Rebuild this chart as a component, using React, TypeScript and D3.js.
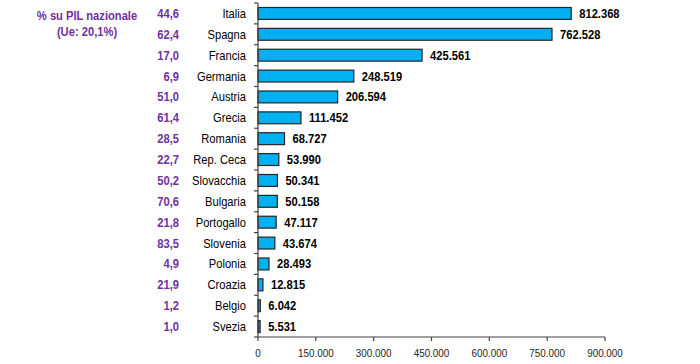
import React, { useEffect, useRef } from 'react'
import * as d3 from 'd3'

const countries = ['Italia', 'Spagna', 'Francia', 'Germania', 'Austria', 'Grecia', 'Romania', 'Rep. Ceca', 'Slovacchia', 'Bulgaria', 'Portogallo', 'Slovenia', 'Polonia', 'Croazia', 'Belgio', 'Svezia']
const amounts = [812368, 762528, 425561, 248519, 206594, 111452, 68727, 53990, 50341, 50158, 47117, 43674, 28493, 12815, 6042, 5531]
const pilShares = ['44,6', '62,4', '17,0', '6,9', '51,0', '61,4', '28,5', '22,7', '50,2', '70,6', '21,8', '83,5', '4,9', '21,9', '1,2', '1,0']
const xTicks = [0, 150000, 300000, 450000, 600000, 750000, 900000]

const W = 700
const H = 364
const SQUEEZE = 0.86 // the source uses a narrow-looking Arial

const App: React.FC = () => {
  const svgRef = useRef<SVGSVGElement>(null)

  useEffect(() => {
    if (!svgRef.current) return
    const svg = d3.select(svgRef.current)
    svg.selectAll('*').remove()

    const left = 258
    const right = 605
    const top = 3
    const bottom = 337
    const font = 'Liberation Sans, Arial, sans-serif'
    const it = d3.formatLocale({ decimal: ',', thousands: '.', grouping: [3], currency: ['', '€'] })
    const fmt = it.format(',d')

    const x = d3.scaleLinear().domain([0, 900000]).range([left, right])
    const y = d3.scaleBand().domain(countries).range([top, bottom]).paddingInner(0.43).paddingOuter(0.215)

    const rows = countries.map((c, i) => ({ c, v: amounts[i], p: pilShares[i] }))
    const mid = (c: string) => (y(c) ?? 0) + y.bandwidth() / 2

    // bars
    svg.append('g').selectAll('rect')
      .data(rows)
      .enter()
      .append('rect')
      .attr('x', x(0))
      .attr('y', d => y(d.c) ?? 0)
      .attr('width', d => x(d.v) - x(0))
      .attr('height', y.bandwidth())
      .attr('fill', '#00B0F0')
      .attr('stroke', '#262626')
      .attr('stroke-width', 1.2)

    // y axis line + ticks at category boundaries
    const ax = svg.append('g').attr('stroke', '#404040').attr('stroke-width', 1.2)
    ax.append('line').attr('x1', left).attr('x2', left).attr('y1', top).attr('y2', bottom)
    d3.range(countries.length + 1).forEach(i => {
      const yy = top + i * ((bottom - top) / countries.length)
      ax.append('line').attr('x1', left - 4).attr('x2', left).attr('y1', yy).attr('y2', yy)
    })

    // x axis
    ax.append('line').attr('x1', left).attr('x2', right).attr('y1', bottom).attr('y2', bottom)
    xTicks.forEach(t => {
      ax.append('line').attr('x1', x(t)).attr('x2', x(t)).attr('y1', bottom).attr('y2', bottom + 4)
    })

    const label = (
      g: d3.Selection<SVGGElement, unknown, null, undefined>,
      tx: number, ty: number, text: string, anchor: string,
      size: number, weight: string, color: string
    ) => {
      g.append('text')
        .attr('transform', `translate(${tx},${ty}) scale(${SQUEEZE},1)`)
        .attr('dy', '0.35em')
        .attr('text-anchor', anchor)
        .style('font-family', font)
        .style('font-size', `${size}px`)
        .style('font-weight', weight)
        .style('fill', color)
        .text(text)
    }

    const txt = svg.append('g')
    xTicks.forEach(t => label(txt, x(t), 353, fmt(t), 'middle', 11.5, 'normal', '#262626'))
    rows.forEach(d => {
      label(txt, 246, mid(d.c), d.c, 'end', 13, 'normal', '#000')
      label(txt, x(d.v) + 8, mid(d.c), fmt(d.v), 'start', 13, 'bold', '#000')
      label(txt, 179, mid(d.c), d.p, 'end', 13, 'bold', '#7030A0')
    })

    label(txt, 87, 15, '% su PIL nazionale', 'middle', 13, 'bold', '#7030A0')
    label(txt, 87, 31, '(Ue: 20,1%)', 'middle', 13, 'bold', '#7030A0')
  }, [])

  return (
    <svg ref={svgRef} width={W} height={H} style={{ position: 'absolute', left: 0, top: 0, background: '#fff' }} />
  )
}

export default App
